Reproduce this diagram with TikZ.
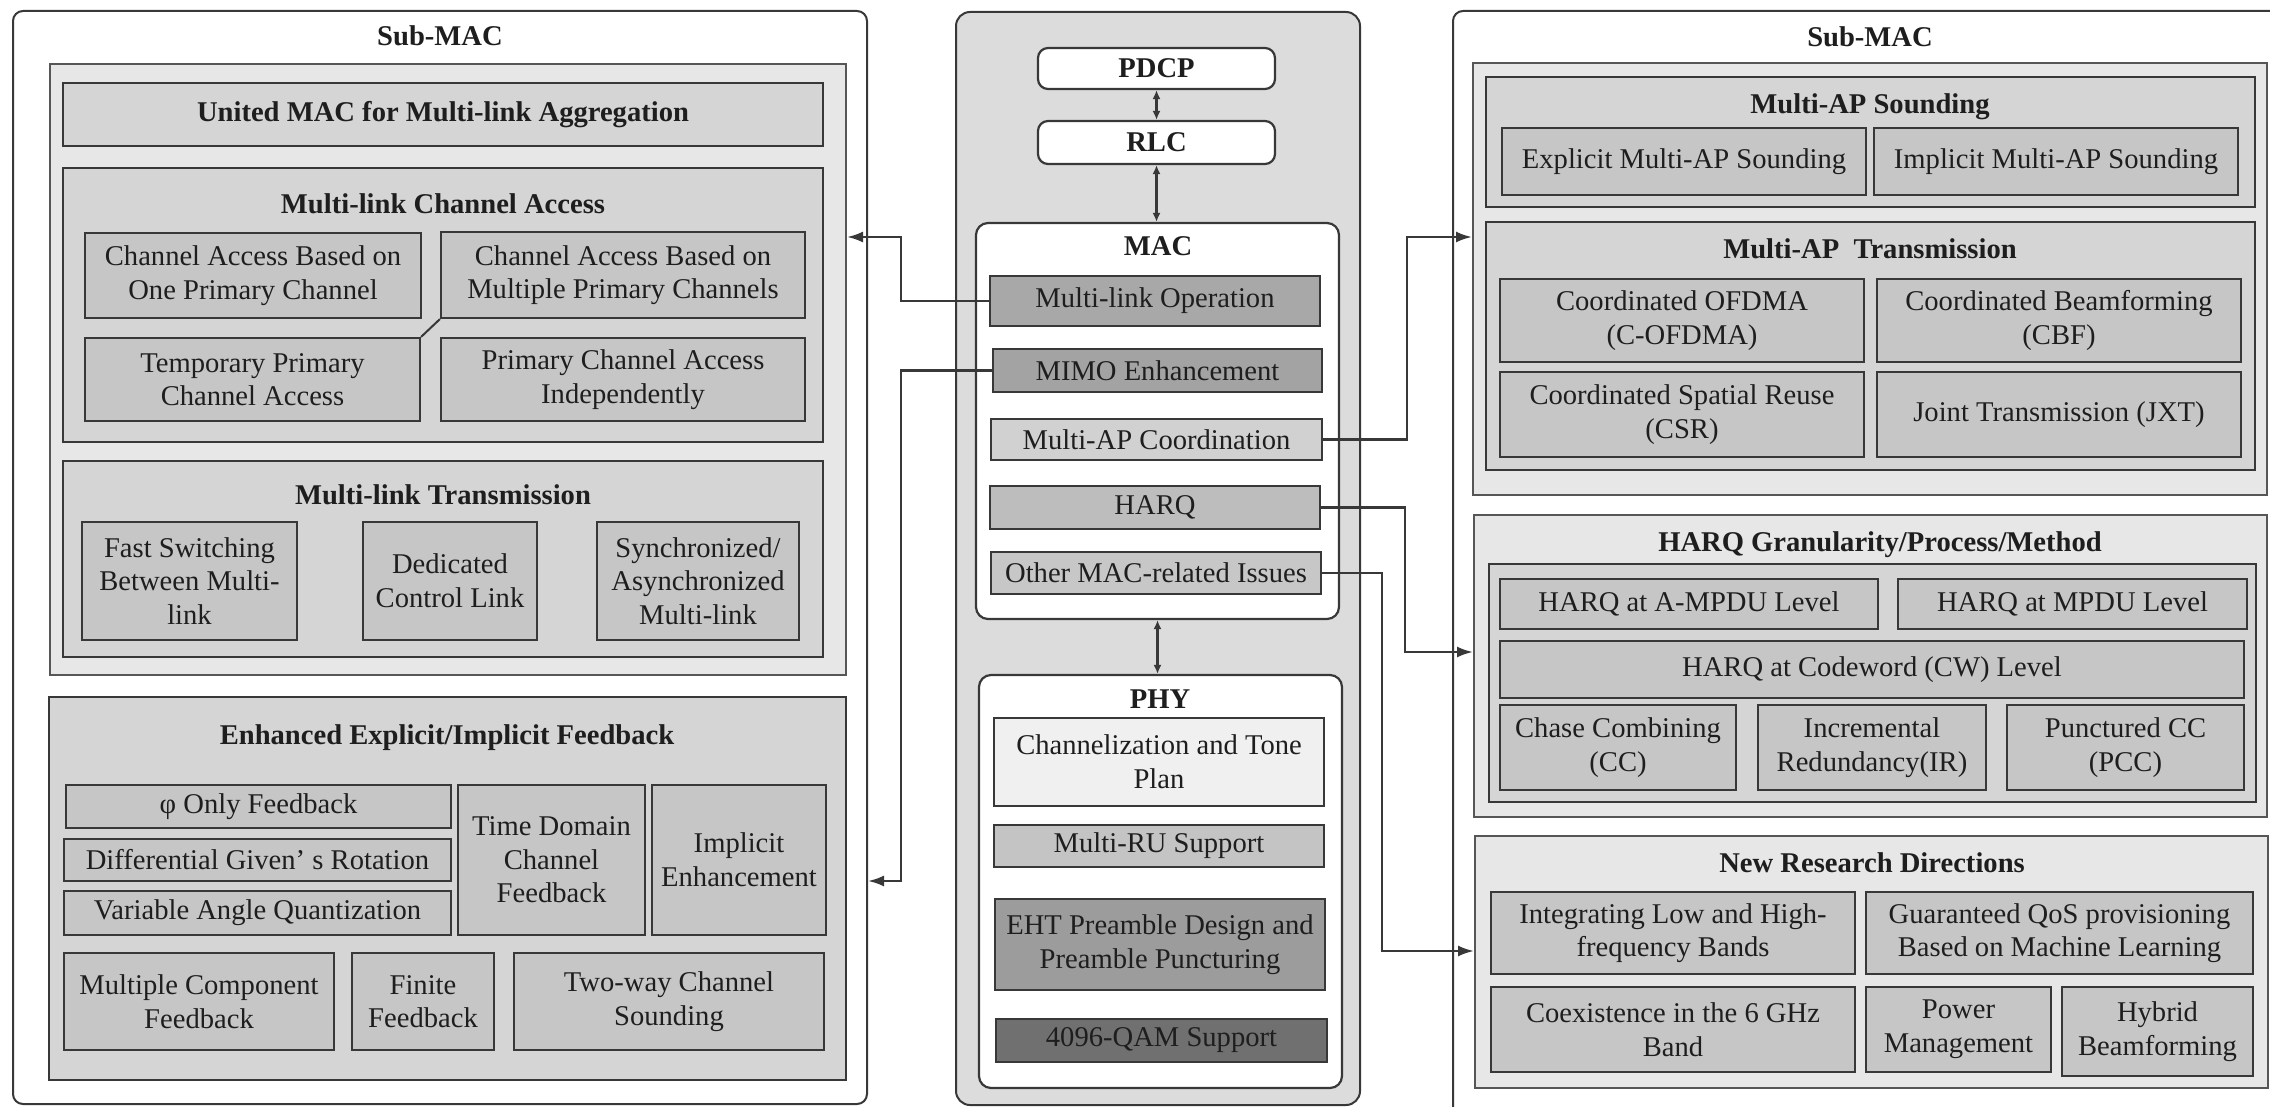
\documentclass[tikz,border=0pt]{standalone}
\usepackage{fontspec}
\setmainfont{Liberation Serif}
\usetikzlibrary{arrows.meta}
\definecolor{ln}{HTML}{383838}
\definecolor{txt}{HTML}{1E1E1E}
\definecolor{grpfill}{HTML}{E7E7E7}
\definecolor{contfill}{HTML}{D5D5D5}
\definecolor{itmfill}{HTML}{C6C6C6}
\definecolor{cbg}{HTML}{DCDCDC}
\tikzset{
  outerbox/.style={draw=ln, line width=1pt, rounded corners=5pt, fill=white, inner sep=0pt},
  grp/.style={draw=ln!85, line width=1pt, fill=grpfill, inner sep=0pt},
  cont/.style={draw=ln, line width=1.1pt, fill=contfill, inner sep=0pt},
  itm/.style={draw=ln, line width=1.1pt, fill=itmfill, inner sep=0pt, align=center, text=txt},
  layerbox/.style={draw=ln, line width=1.1pt, fill=white, rounded corners=5pt, inner sep=0pt},
  boldtext/.style={font=\fontsize{14.3}{17}\selectfont\bfseries, text=txt},
  ttl/.style={font=\fontsize{14.3}{17}\selectfont\bfseries, text=txt},
  conn/.style={draw=ln, line width=1.2pt, -{Latex[length=8pt,width=5.5pt]}},
  dbl/.style={draw=ln, line width=1.1pt, {Latex[length=4.5pt,width=4pt]}-{Latex[length=4.5pt,width=4pt]}}
}
% \bx{style}{x1}{y1}{x2}{y2}{name} {text};
\newcommand\bx[6]{\node[#1, minimum width={(#4-#2)*0.5pt}, minimum height={(#5-#3)*0.5pt}] (#6) at ({(#2+#4)/2},{(#3+#5)/2})}
\begin{document}
\begin{tikzpicture}[x=0.5pt,y=-0.5pt, font=\fontsize{14.3}{16.8}\selectfont]
\useasboundingbox (0,0) rectangle (2270,1107);
\clip (0,0) rectangle (2270,1107);
\fill[white] (0,0) rectangle (2270,1107);

% ================= LEFT SUB-MAC =================
\bx{outerbox}{13}{11}{867}{1104}{outerL} {};
\node[ttl] (tL) at (440,36) {Sub-MAC};
\bx{grp}{50}{64}{846}{675}{grpL1} {};
\bx{cont,boldtext}{63}{83}{823}{146}{united} {United MAC for Multi-link Aggregation};
\bx{cont}{63}{168}{823}{442}{mlca} {};
\node[ttl] (tmlca) at (443,204) {Multi-link Channel Access};
\bx{itm}{85}{233}{421}{318}{ca1} {Channel Access Based on\\One Primary Channel};
\bx{itm}{441}{232}{805}{318}{ca2} {Channel Access Based on\\Multiple Primary Channels};
\bx{itm}{85}{338}{420}{421}{ca3} {Temporary Primary\\Channel Access};
\bx{itm}{441}{338}{805}{421}{ca4} {Primary Channel Access\\Independently};
\draw[ln, line width=1pt] (ca3.north east) -- (ca2.south west);

\bx{cont}{63}{461}{823}{657}{mlt} {};
\node[ttl] (tmlt) at (443,495) {Multi-link Transmission};
\bx{itm}{82}{522}{297}{640}{t1} {Fast Switching\\Between Multi-\\link};
\bx{itm}{363}{522}{537}{640}{t2} {Dedicated\\Control Link};
\bx{itm}{597}{522}{799}{640}{t3} {Synchronized/\\Asynchronized\\Multi-link};

\bx{cont}{49}{697}{846}{1080}{fb} {};
\node[ttl] (tfb) at (447,738) {Enhanced Explicit/Implicit Feedback};
\bx{itm}{66}{785}{451}{828}{f1} {φ Only Feedback};
\bx{itm}{64}{839}{451}{881}{f2} {Differential Given’ s Rotation};
\bx{itm}{64}{891}{451}{935}{f3} {Variable Angle Quantization};
\bx{itm}{458}{785}{645}{935}{f4} {Time Domain\\Channel\\Feedback};
\bx{itm}{652}{785}{826}{935}{f5} {Implicit\\Enhancement};
\bx{itm}{64}{953}{334}{1050}{f6} {Multiple Component\\Feedback};
\bx{itm}{352}{953}{494}{1050}{f7} {Finite\\Feedback};
\bx{itm}{514}{953}{824}{1050}{f8} {Two-way Channel\\Sounding};

% ================= CENTER =================
\bx{outerbox,fill=cbg,rounded corners=7pt}{956}{12}{1360}{1105}{outerC} {};
\bx{layerbox,boldtext}{1038}{48}{1275}{89}{pdcp} {PDCP};
\bx{layerbox,boldtext}{1038}{121}{1275}{164}{rlc} {RLC};
\bx{layerbox,rounded corners=6pt}{976}{223}{1339}{619}{mac} {};
\node[ttl] (tmac) at (1158,246) {MAC};
\bx{itm,fill=black!34}{990}{276}{1320}{326}{mlo} {Multi-link Operation};
\bx{itm,fill=black!36}{993}{349}{1322}{392}{mimo} {MIMO Enhancement};
\bx{itm,fill=black!18}{991}{419}{1322}{460}{mapc} {Multi-AP Coordination};
\bx{itm,fill=black!26}{990}{486}{1320}{529}{harq} {HARQ};
\bx{itm,fill=black!22}{991}{552}{1321}{594}{other} {Other MAC-related Issues};

\bx{layerbox,rounded corners=6pt}{979}{675}{1342}{1088}{phy} {};
\node[ttl] (tphy) at (1160,699) {PHY};
\bx{itm,fill=black!6}{994}{718}{1324}{806}{chn} {Channelization and Tone\\Plan};
\bx{itm,fill=black!23}{994}{825}{1324}{867}{mru} {Multi-RU Support};
\bx{itm,fill=black!39}{995}{899}{1325}{990}{eht} {EHT Preamble Design and\\Preamble Puncturing};
\bx{itm,fill=black!56}{996}{1019}{1327}{1062}{qam} {4096-QAM Support};

\draw[dbl] (pdcp.south) -- (rlc.north);
\draw[dbl] (rlc.south) -- (rlc.south |- mac.north);
\draw[dbl] (mac.south) -- (mac.south |- phy.north);

% ================= RIGHT SUB-MAC =================
\bx{outerbox}{1453}{11}{2300}{1125}{outerR} {};
\node[ttl] (tR) at (1870,37) {Sub-MAC};
\bx{grp}{1473}{63}{2267}{495}{grpR1} {};
\bx{cont}{1486}{77}{2255}{207}{snd} {};
\node[ttl] (tsnd) at (1870,107) {Multi-AP Sounding};
\bx{itm}{1502}{128}{1866}{195}{s1} {Explicit Multi-AP Sounding};
\bx{itm}{1874}{128}{2238}{195}{s2} {Implicit Multi-AP Sounding};
\bx{cont}{1486}{222}{2255}{470}{tx} {};
\node[ttl] (ttx) at (1870,249) {Multi-AP\ \ Transmission};
\bx{itm}{1500}{279}{1864}{362}{x1} {Coordinated OFDMA\\(C-OFDMA)};
\bx{itm}{1877}{279}{2241}{362}{x2} {Coordinated Beamforming\\(CBF)};
\bx{itm}{1500}{372}{1864}{457}{x3} {Coordinated Spatial Reuse\\(CSR)};
\bx{itm}{1877}{372}{2241}{457}{x4} {Joint Transmission (JXT)};

\bx{grp}{1474}{515}{2267}{817}{grpR2} {};
\node[ttl] (th) at (1880,545) {HARQ Granularity/Process/Method};
\bx{cont}{1489}{564}{2256}{802}{hc} {};
\bx{itm}{1500}{579}{1878}{629}{h1} {HARQ at A-MPDU Level};
\bx{itm}{1898}{579}{2247}{629}{h2} {HARQ at MPDU Level};
\bx{itm}{1500}{641}{2244}{698}{h3} {HARQ at Codeword (CW) Level};
\bx{itm}{1500}{705}{1736}{790}{h4} {Chase Combining\\(CC)};
\bx{itm}{1758}{705}{1986}{790}{h5} {Incremental\\Redundancy(IR)};
\bx{itm}{2007}{705}{2244}{790}{h6} {Punctured CC\\(PCC)};

\bx{grp}{1475}{836}{2268}{1088}{grpR3} {};
\node[ttl] (tn) at (1872,863) {New Research Directions};
\bx{itm}{1491}{892}{1855}{974}{n1} {Integrating Low and High-\\frequency Bands};
\bx{itm}{1866}{892}{2253}{974}{n2} {Guaranteed QoS provisioning\\Based on Machine Learning};
\bx{itm}{1491}{987}{1855}{1072}{n3} {Coexistence in the 6 GHz\\Band};
\bx{itm}{1866}{987}{2051}{1072}{n4} {Power\\Management};
\bx{itm}{2062}{987}{2253}{1076}{n5} {Hybrid\\Beamforming};

% ================= CONNECTORS =================
\coordinate (c1) at (901,237);
\coordinate (c2) at (901,881);
\coordinate (c3) at (1407,237);
\coordinate (c4) at (1405,652);
\coordinate (c5) at (1382,951);
\draw[conn] (mlo.west) -| (c1) -- (grpL1.east |- c1);
\draw[conn] (mimo.west) -| (c2) -- (outerL.east |- c2);
\draw[conn] (mapc.east) -| (c3) -- (grpR1.west |- c3);
\draw[conn] (harq.east) -| (c4) -- (grpR2.west |- c4);
\draw[conn] (other.east) -| (c5) -- (grpR3.west |- c5);
\end{tikzpicture}
\end{document}
